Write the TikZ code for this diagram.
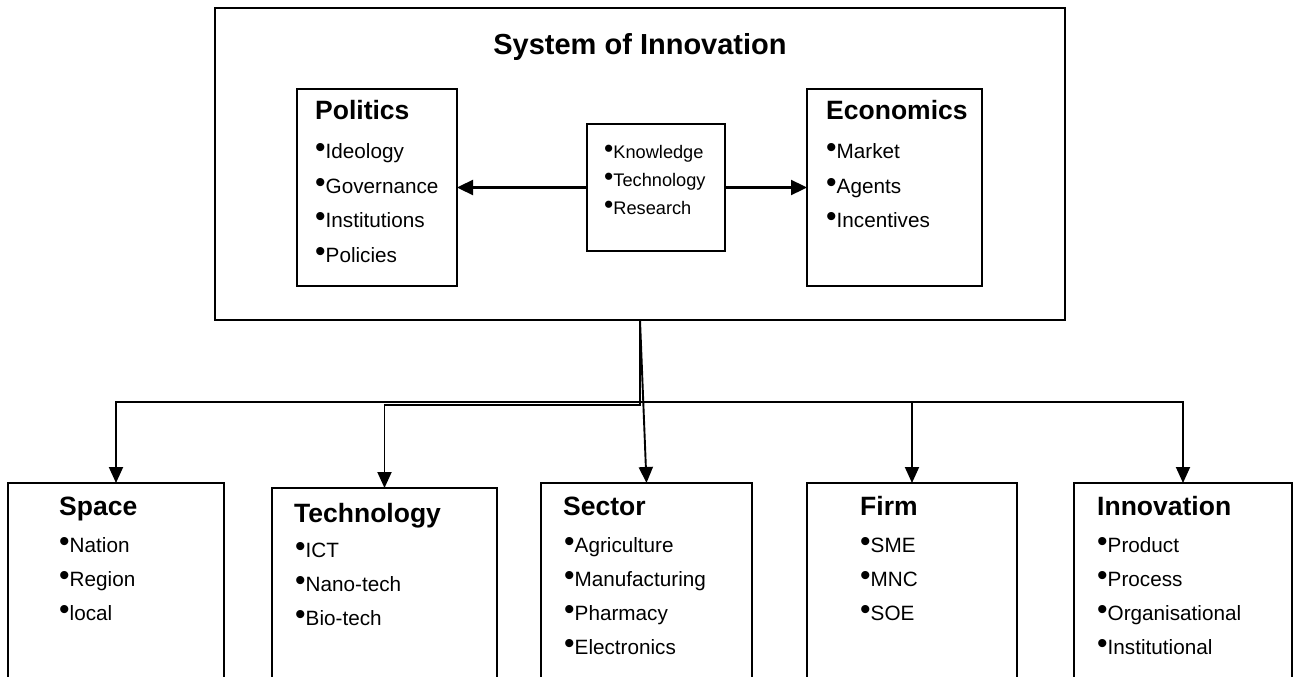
\documentclass[tikz,border=0pt]{standalone}
\usepackage{fontspec}
\usepackage{graphicx}
\setmainfont{Liberation Sans}
\usetikzlibrary{arrows.meta}
\newcommand\bul{\raisebox{0.04em}{\scalebox{1.45}{\textbullet}}}
\begin{document}
\begin{tikzpicture}[x=1pt,y=-1pt,
  box/.style={draw, line width=2.1pt, rectangle, anchor=north west, inner sep=0pt, outer sep=0pt},
  ttl/.style={anchor=base west, inner sep=0pt, font=\fontsize{26.5}{30}\selectfont\bfseries},
  bigttl/.style={anchor=base, inner sep=0pt, font=\fontsize{29}{33}\selectfont\bfseries},
  itm/.style={anchor=base west, inner sep=0pt, font=\fontsize{20.7}{24}\selectfont},
  sitm/.style={anchor=base west, inner sep=0pt, font=\fontsize{18.2}{22}\selectfont},
  conn/.style={line width=1.9pt, -{Triangle[width=14pt,length=16pt]}},
  hconn/.style={line width=2.3pt, -{Triangle[width=15pt,length=16pt]}}]
\useasboundingbox (0,0) rectangle (1294,677);
\clip (0,0) rectangle (1294,677);
% top system box
\node[box, minimum width=850pt, minimum height=312pt] (sys) at (215,8) {};
\node[bigttl] (systitle) at (640,55) {System of Innovation};
\node[box, minimum width=160pt, minimum height=197pt] (pol) at (297,89) {};
\node[box, minimum width=138pt, minimum height=127pt] (mid) at (587,124) {};
\node[box, minimum width=175pt, minimum height=197pt] (eco) at (807,89) {};
% politics
\node[ttl] (polt) at (315,120) {Politics};
\node[itm] (pol1) at (315,158) {\bul Ideology};
\node[itm] (pol2) at (315,193) {\bul Governance};
\node[itm] (pol3) at (315,227) {\bul Institutions};
\node[itm] (pol4) at (315,262) {\bul Policies};
% middle
\node[sitm] (mid1) at (604,158) {\bul Knowledge};
\node[sitm] (mid2) at (604,186) {\bul Technology};
\node[sitm] (mid3) at (604,214) {\bul Research};
% economics
\node[ttl] (ecot) at (826,120) {Economics};
\node[itm] (eco1) at (826,158) {\bul Market};
\node[itm] (eco2) at (826,193) {\bul Agents};
\node[itm] (eco3) at (826,227) {\bul Incentives};
\draw[hconn] (mid) -- (pol);
\draw[hconn] (mid) -- (eco);
% bottom boxes
\node[box, minimum width=216pt, minimum height=260pt] (space) at (8,483) {};
\node[box, minimum width=225pt, minimum height=260pt] (tech) at (272,488) {};
\node[box, minimum width=211pt, minimum height=260pt] (sector) at (541,483) {};
\node[box, minimum width=210pt, minimum height=260pt] (firm) at (807,483) {};
\node[box, minimum width=218pt, minimum height=260pt] (innov) at (1074,483) {};
% space
\node[ttl] (spacet) at (59,515) {Space};
\node[itm] (space1) at (59,552) {\bul Nation};
\node[itm] (space2) at (59,586) {\bul Region};
\node[itm] (space3) at (59,620) {\bul local};
% technology
\node[ttl] (techt) at (294,522) {Technology};
\node[itm] (tech1) at (295,557) {\bul ICT};
\node[itm] (tech2) at (295,591) {\bul Nano-tech};
\node[itm] (tech3) at (295,625) {\bul Bio-tech};
% sector
\node[ttl] (sectort) at (563,515) {Sector};
\node[itm] (sector1) at (564,552) {\bul Agriculture};
\node[itm] (sector2) at (564,586) {\bul Manufacturing};
\node[itm] (sector3) at (564,620) {\bul Pharmacy};
\node[itm] (sector4) at (564,654) {\bul Electronics};
% firm
\node[ttl] (firmt) at (860,515) {Firm};
\node[itm] (firm1) at (860,552) {\bul SME};
\node[itm] (firm2) at (860,586) {\bul MNC};
\node[itm] (firm3) at (860,620) {\bul SOE};
% innovation
\node[ttl] (innovt) at (1097,515) {Innovation};
\node[itm] (innov1) at (1097,552) {\bul Product};
\node[itm] (innov2) at (1097,586) {\bul Process};
\node[itm] (innov3) at (1097,620) {\bul Organisational};
\node[itm] (innov4) at (1097,654) {\bul Institutional};
% connectors
\coordinate (j1) at (640,402);
\coordinate (j2) at (640,405);
\draw[conn] (sys.south) -- (j1) -| (space.north);
\draw[conn] (sys.south) -- (j2) -| (tech.north);
\draw[conn] (sys.south) -- (sector.north);
\draw[conn] (j1) -| (firm.north);
\draw[conn] (j1) -| (innov.north);
\end{tikzpicture}
\end{document}
